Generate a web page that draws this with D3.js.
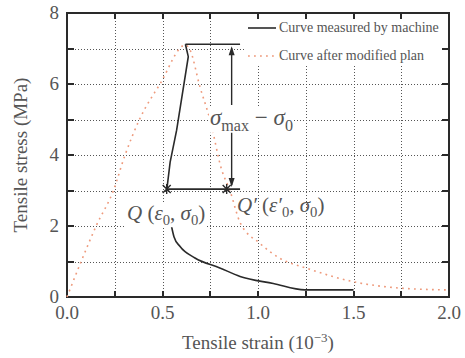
<!DOCTYPE html>
<html>
<head>
<meta charset="utf-8">
<script src="https://cdn.jsdelivr.net/npm/d3@7"></script>
</head>
<body style="margin:0">
<script>
const W = 465, H = 358;
const m = {l: 67, r: 16, t: 13, b: 61};
const FONT = 'Liberation Serif';

// data
const xTicks = [0, 0.5, 1.0, 1.5, 2.0];
const xMinor = [0, 0.25, 0.5, 0.75, 1.0, 1.25, 1.5, 1.75, 2.0];
const yTicks = [0, 2, 4, 6, 8];
const yMinor = [0, 1, 2, 3, 4, 5, 6, 7, 8];

const machineUp = [[0.522, 3.0], [0.54, 3.8], [0.574, 4.7], [0.635, 6.77], [0.62, 7.12]];
const machineDown = [[0.545, 2.05], [0.56, 1.7], [0.592, 1.42], [0.67, 1.1], [0.8, 0.82],
  [0.906, 0.58], [1.08, 0.38], [1.246, 0.2], [1.5, 0.2]];
const modified = [[0, 0], [0.077, 1.04], [0.155, 2.03], [0.243, 3.0], [0.304, 4.0], [0.382, 5.03],
  [0.487, 6.0], [0.62, 7.1], [0.644, 6.96], [0.696, 5.92], [0.749, 4.99], [0.81, 3.58],
  [0.853, 3.0], [0.906, 2.1], [1.01, 1.51], [1.115, 1.09], [1.255, 0.81], [1.5, 0.43],
  [1.745, 0.25], [1.99, 0.2]];

const sigmaMax = 7.12, sigma0 = 3.04;
const eps0 = 0.522, eps0p = 0.836;
const arrowX = 0.862, refEnd = 0.906;

const svg = d3.select('body').append('svg').attr('width', W).attr('height', H);
const x = d3.scaleLinear().domain([0, 2]).range([m.l, W - m.r]);
const y = d3.scaleLinear().domain([0, 8]).range([H - m.b, m.t]);

const dark = '#2a2a2a';
const orange = '#ee9a7c';
const grey = '#555';
const x0 = Math.round(x(0)), x1 = Math.round(x(2)), yb = Math.round(y(0)), yt = Math.round(y(8));

// grid drawn as little dots (filled squares)
const grid = svg.append('g').attr('fill', '#555');
xMinor.slice(1, -1).forEach(d => {
  const gx = Math.round(x(d));
  d3.range(yt + 2, yb, 3).forEach(gy => grid.append('rect').attr('x', gx).attr('y', gy).attr('width', 1).attr('height', 1));
});
yMinor.slice(1, -1).forEach(d => {
  const gy = Math.round(y(d));
  d3.range(x0 + 2, x1, 3).forEach(gx => grid.append('rect').attr('x', gx).attr('y', gy).attr('width', 1).attr('height', 1));
});

// legend background
svg.append('rect').attr('x', 245).attr('y', yt + 2).attr('width', x1 - 246).attr('height', 51).attr('fill', '#fff');

// frame and inward ticks as filled bars
const fr = svg.append('g').attr('fill', dark);
fr.append('rect').attr('x', x0 - 1).attr('y', yt - 1).attr('width', x1 - x0 + 2).attr('height', 2);
fr.append('rect').attr('x', x0 - 1).attr('y', yb - 1).attr('width', x1 - x0 + 2).attr('height', 2);
fr.append('rect').attr('x', x0 - 1).attr('y', yt - 1).attr('width', 2).attr('height', yb - yt + 2);
fr.append('rect').attr('x', x1 - 1).attr('y', yt - 1).attr('width', 2).attr('height', yb - yt + 2);
xMinor.forEach(d => {
  const v = Math.round(x(d));
  fr.append('rect').attr('x', v - 1).attr('y', yb - 6).attr('width', 2).attr('height', 6);
  fr.append('rect').attr('x', v - 1).attr('y', yt).attr('width', 2).attr('height', 6);
});
yMinor.forEach(d => {
  const v = Math.round(y(d));
  fr.append('rect').attr('x', x0).attr('y', v - 1).attr('width', 7).attr('height', 2);
  fr.append('rect').attr('x', x1 - 7).attr('y', v - 1).attr('width', 7).attr('height', 2);
});

// tick labels
svg.append('g').selectAll('text').data(xTicks).enter().append('text')
  .attr('x', d => x(d)).attr('y', yb + 22).attr('text-anchor', 'middle')
  .attr('font-family', FONT).attr('font-size', 19).attr('fill', grey).text(d3.format('.1f'));
svg.append('g').selectAll('text').data(yTicks).enter().append('text')
  .attr('x', x0 - 8).attr('y', d => y(d) + 6).attr('text-anchor', 'end')
  .attr('font-family', FONT).attr('font-size', 19).attr('fill', grey).text(d => d);

const line = d3.line().x(d => x(d[0])).y(d => y(d[1]));

// modified curve
svg.append('path').datum(modified).attr('d', line.curve(d3.curveMonotoneX)).attr('fill', 'none')
  .attr('stroke', orange).attr('stroke-width', 1.6).attr('stroke-dasharray', '1.8,4.2');

// machine curve
svg.append('path').datum(machineDown).attr('d', line.curve(d3.curveMonotoneX)).attr('fill', 'none')
  .attr('stroke', dark).attr('stroke-width', 1.6);
svg.append('path').datum(machineUp).attr('d', line.curve(d3.curveLinear)).attr('fill', 'none')
  .attr('stroke', dark).attr('stroke-width', 1.6);

// reference lines
svg.append('line').attr('x1', x(0.62)).attr('x2', x(refEnd)).attr('y1', y(sigmaMax)).attr('y2', y(sigmaMax))
  .attr('stroke', dark).attr('stroke-width', 1.6);
svg.append('line').attr('x1', x(eps0)).attr('x2', x(refEnd)).attr('y1', y(sigma0)).attr('y2', y(sigma0))
  .attr('stroke', dark).attr('stroke-width', 1.6);

// double arrow with gap for label
const ax = x(arrowX);
svg.append('line').attr('x1', ax).attr('x2', ax).attr('y1', y(sigmaMax) + 4).attr('y2', 105)
  .attr('stroke', dark).attr('stroke-width', 1.4);
svg.append('line').attr('x1', ax).attr('x2', ax).attr('y1', 131).attr('y2', y(sigma0) - 4)
  .attr('stroke', dark).attr('stroke-width', 1.4);
svg.append('path').attr('d', `M${ax},${y(sigmaMax) + 2}l-3,9l6,0z`).attr('fill', dark);
svg.append('path').attr('d', `M${ax},${y(sigma0) - 2}l-3,-9l6,0z`).attr('fill', dark);

// cross markers
[[eps0, sigma0], [eps0p, sigma0]].forEach(p => {
  const cx = x(p[0]), cy = y(p[1]);
  svg.append('path').attr('d', `M${cx - 4},${cy - 4}L${cx + 4},${cy + 4}M${cx - 4},${cy + 4}L${cx + 4},${cy - 4}M${cx},${cy - 5}L${cx},${cy + 5}`)
    .attr('stroke', dark).attr('stroke-width', 1.4);
});

// annotation labels
function mathLabel(lx, ly, size, parts, bg) {
  const g = svg.append('g');
  const t = g.append('text').attr('x', lx).attr('y', ly).attr('font-size', size).attr('fill', grey)
    .attr('font-family', FONT);
  parts.forEach(p => {
    const s = t.append('tspan').text(p[0]);
    if (p[1] === 'i') s.attr('font-style', 'italic');
    if (p[1] === 'sub') s.attr('font-size', size * 0.7).attr('dy', size * 0.25);
    if (p[1] === 'up') s.attr('dy', -size * 0.25);
  });
  if (bg) {
    const b = t.node().getBBox();
    g.insert('rect', 'text').attr('x', b.x - 1).attr('y', b.y + 3).attr('width', b.width + 2).attr('height', b.height - 4).attr('fill', '#fff');
  }
  return t;
}
mathLabel(210, 125, 23, [['σ', 'i'], ['max', 'sub'], [' − ', 'up'], ['σ', 'i'], ['0', 'sub']], true);
mathLabel(127, 220, 21, [['Q', 'i'], [' (', ''], ['ε', 'i'], ['0', 'sub'], [', ', 'up'], ['σ', 'i'], ['0', 'sub'], [')', 'up']], true);
mathLabel(237, 212, 21, [['Q′', 'i'], [' (', ''], ['ε′', 'i'], ['0', 'sub'], [', ', 'up'], ['σ', 'i'], ['0', 'sub'], [')', 'up']], false);

// legend
const lg = svg.append('g');
lg.append('line').attr('x1', 248).attr('x2', 276).attr('y1', 28).attr('y2', 28).attr('stroke', dark).attr('stroke-width', 1.6);
lg.append('line').attr('x1', 248).attr('x2', 276).attr('y1', 56).attr('y2', 56).attr('stroke', orange).attr('stroke-width', 1.6).attr('stroke-dasharray', '1.8,4.2');
lg.append('text').attr('x', 279).attr('y', 32).attr('font-family', FONT).attr('font-size', 14).attr('fill', grey).text('Curve measured by machine');
lg.append('text').attr('x', 279).attr('y', 60).attr('font-family', FONT).attr('font-size', 14).attr('fill', grey).text('Curve after modified plan');

// axis titles
const xt = svg.append('text').attr('x', (x(0) + x(2)) / 2).attr('y', 349).attr('text-anchor', 'middle')
  .attr('font-size', 19).attr('fill', grey).attr('font-family', FONT);
xt.append('tspan').text('Tensile strain (10');
xt.append('tspan').text('−3').attr('font-size', 13).attr('dy', -7);
xt.append('tspan').text(')').attr('dy', 7);

svg.append('text').attr('transform', `translate(27,${y(4)}) rotate(-90)`).attr('text-anchor', 'middle')
  .attr('font-size', 19).attr('fill', grey).attr('font-family', FONT).text('Tensile stress (MPa)');
</script>
</body>
</html>
